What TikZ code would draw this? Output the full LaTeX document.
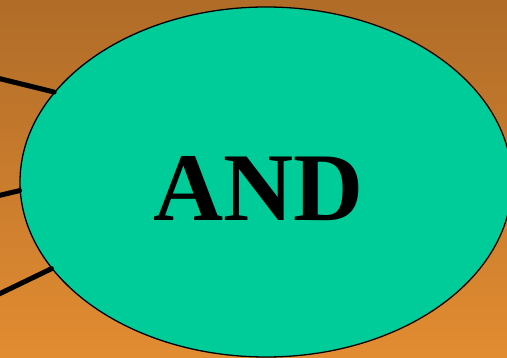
\documentclass[tikz,border=0pt]{standalone}
\usepackage{fontspec}
\setmainfont{Liberation Serif}
\usetikzlibrary{shapes.geometric}
\definecolor{bgtop}{RGB}{176,108,40}
\definecolor{bgbot}{RGB}{226,140,50}
\definecolor{andgreen}{RGB}{0,204,153}
\tikzset{
  gate/.style={ellipse, draw=black, line width=1.3pt, fill=andgreen, inner sep=0pt,
    minimum width=492pt, minimum height=350pt},
  wire/.style={line width=5pt, black, line cap=round},
  gatelabel/.style={font=\bfseries\fontsize{97}{97}\selectfont, inner sep=0pt, anchor=base}
}
\begin{document}
\begin{tikzpicture}[x=1pt,y=1pt]
\useasboundingbox (0,0) rectangle (507,358);
\clip (0,0) rectangle (507,358);
\shade[top color=bgtop, bottom color=bgbot] (0,0) rectangle (507,358);
\node[gate] (and) at (266,176) {};
\node[gatelabel] (lbl) at (258.5,137) {AND};
\coordinate (in1) at (-3,280);
\coordinate (in2) at (-3,162);
\coordinate (in3) at (-3,63);
\draw[wire] (in1) -- (and.157.8);
\draw[wire] (in2) -- (and.182.8);
\draw[wire] (in3) -- (and.202.4);
\end{tikzpicture}
\end{document}
